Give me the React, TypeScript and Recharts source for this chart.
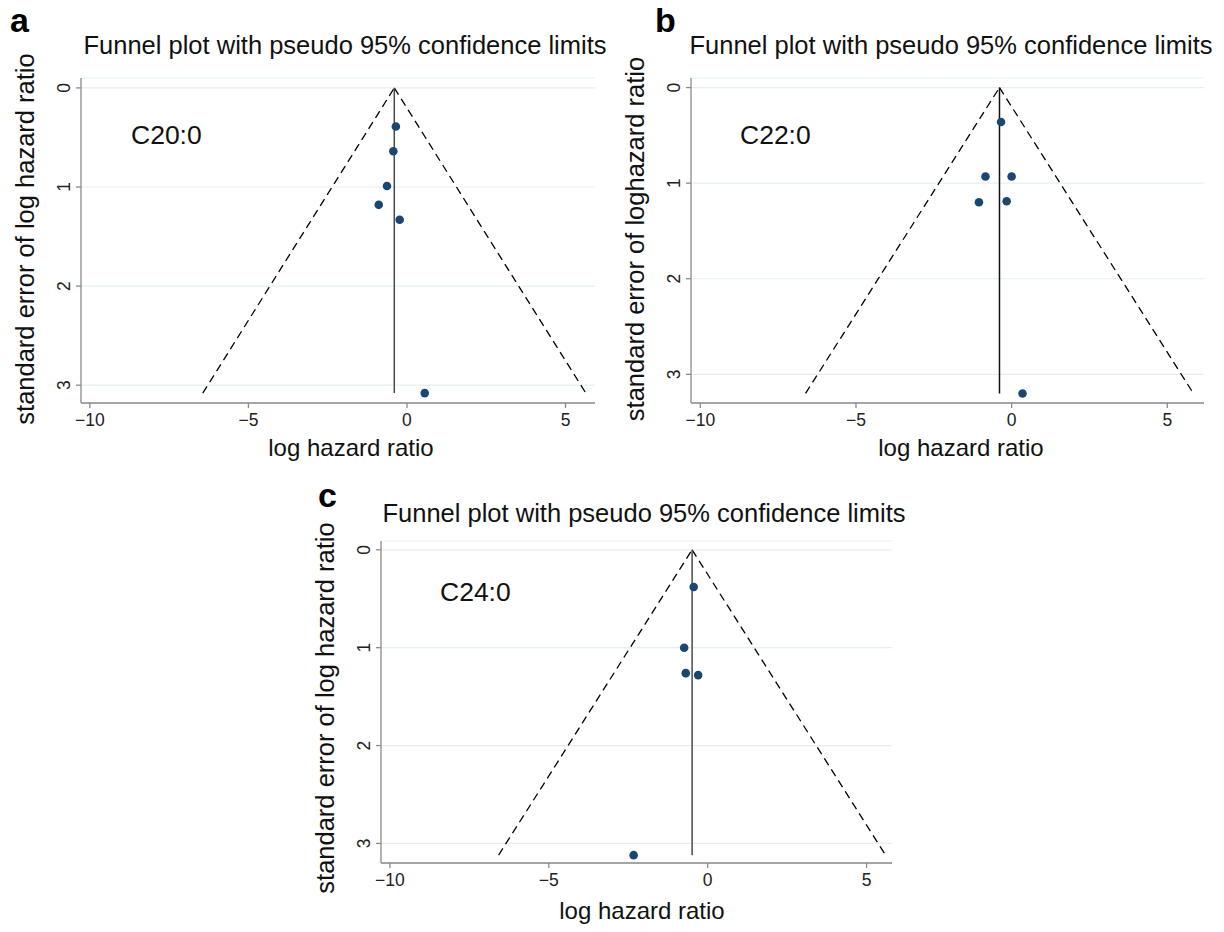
import React from 'react';
import { ScatterChart, Scatter, XAxis, YAxis, CartesianGrid, ReferenceLine } from 'recharts';

// ---------- data ----------
const xTicks = [-10, -5, 0, 5];
const yTicks = [0, 1, 2, 3];
const panelLetters = ['a', 'b', 'c'];
const metaboliteLabels = ['C20:0', 'C22:0', 'C24:0'];
const yAxisTitles = [
  'standard error of log hazard ratio',
  'standard error of loghazard ratio',
  'standard error of log hazard ratio',
];
const plotTitle = 'Funnel plot with pseudo 95% confidence limits';
const xAxisTitle = 'log hazard ratio';

const c20Points = [
  { x: -0.35, y: 0.39 },
  { x: -0.43, y: 0.64 },
  { x: -0.63, y: 0.99 },
  { x: -0.89, y: 1.18 },
  { x: -0.23, y: 1.33 },
  { x: 0.56, y: 3.08 },
];
const c22Points = [
  { x: -0.34, y: 0.36 },
  { x: -0.84, y: 0.93 },
  { x: 0.0, y: 0.93 },
  { x: -1.05, y: 1.2 },
  { x: -0.16, y: 1.19 },
  { x: 0.35, y: 3.2 },
];
const c24Points = [
  { x: -0.44, y: 0.38 },
  { x: -0.74, y: 1.0 },
  { x: -0.69, y: 1.26 },
  { x: -0.3, y: 1.28 },
  { x: -2.33, y: 3.12 },
];
const panelPoints = [c20Points, c22Points, c24Points];

const pooledEstimate = [-0.4, -0.39, -0.49];
const maxStdError = [3.08, 3.2, 3.12];
const lowerLimitAtMax = [-6.44, -6.62, -6.58];
const upperLimitAtMax = [5.64, 5.84, 5.6];
const xDomains: [number, number][] = [[-10.28, 5.93], [-10.3, 6.18], [-10.28, 5.8]];
const yDomains: [number, number][] = [[-0.1, 3.18], [-0.1, 3.3], [-0.09, 3.2]];

// ---------- layout ----------
const layout = [
  { x0: 81, x1: 595, y0: 78, y1: 413, titleCx: 345, titleBy: 54, letterX: 10, letterBy: 32, labX: 131, labBy: 144, yTitleBx: 34, yTitleCy: 239, xTitleCx: 351, xTitleBy: 456, midColor: '#4a4a4a' },
  { x0: 691, x1: 1204, y0: 78, y1: 413, titleCx: 951, titleBy: 54, letterX: 655, letterBy: 32, labX: 740, labBy: 144, yTitleBx: 644, yTitleCy: 239, xTitleCx: 961, xTitleBy: 456, midColor: '#111111' },
  { x0: 381, x1: 892, y0: 541, y1: 873, titleCx: 644, titleBy: 522, letterX: 318, letterBy: 507, labX: 440, labBy: 601, yTitleBx: 334, yTitleCy: 708, xTitleCx: 642, xTitleBy: 919, midColor: '#4a4a4a' },
];

const FONT = '"Liberation Sans", Arial, Helvetica, sans-serif';
const DOT = '#1a476f';
const AXIS = '#8a8a8a';

const fmt = (v: number) => (v < 0 ? '\u2212' + Math.abs(v) : String(v));

const XTick = (props: any) => {
  const { x, y, payload } = props;
  return (
    <text x={x} y={y + 13} textAnchor="middle" fontSize={17.5} fill="#222" fontFamily={FONT}>
      {fmt(payload.value)}
    </text>
  );
};

const YTick = (props: any) => {
  const { x, y, payload } = props;
  return (
    <text x={x} y={y} transform={`rotate(-90, ${x}, ${y})`} textAnchor="middle" fontSize={17.5} fill="#222" fontFamily={FONT}>
      {fmt(payload.value)}
    </text>
  );
};

const Dot = (props: any) => <circle cx={props.cx} cy={props.cy} r={4.3} fill={DOT} />;

function Panel({ i }: { i: number }) {
  const L = layout[i];
  const w = L.x1 - L.x0 + 100;
  const h = L.y1 - L.y0 + 70;
  const th = pooledEstimate[i];
  const se = maxStdError[i];
  return (
    <div style={{ position: 'absolute', left: L.x0 - 80, top: L.y0 - 10, width: w, height: h }}>
      <ScatterChart width={w} height={h} margin={{ top: 10, right: 20, left: 0, bottom: 0 }}>
        <CartesianGrid horizontal vertical={false} stroke="#e6eff0" strokeWidth={1.2} />
        <XAxis
          type="number"
          dataKey="x"
          domain={xDomains[i]}
          ticks={xTicks}
          allowDataOverflow
          height={70}
          tickSize={5}
          tickMargin={5}
          axisLine={{ stroke: AXIS, strokeWidth: 1.3 }}
          tickLine={{ stroke: AXIS, strokeWidth: 1.3 }}
          tick={<XTick />}
          interval={0}
        />
        <YAxis
          type="number"
          dataKey="y"
          reversed
          domain={yDomains[i]}
          ticks={yTicks}
          allowDataOverflow
          width={80}
          tickSize={5}
          tickMargin={6}
          axisLine={{ stroke: AXIS, strokeWidth: 1.3 }}
          tickLine={{ stroke: AXIS, strokeWidth: 1.3 }}
          tick={<YTick />}
          interval={0}
        />
        <ReferenceLine
          segment={[{ x: lowerLimitAtMax[i], y: se }, { x: th, y: 0 }]}
          stroke="#000"
          strokeWidth={1.3}
          strokeDasharray="8 5"
          ifOverflow="visible"
        />
        <ReferenceLine
          segment={[{ x: th, y: 0 }, { x: upperLimitAtMax[i], y: se }]}
          stroke="#000"
          strokeWidth={1.3}
          strokeDasharray="8 5"
          ifOverflow="visible"
        />
        <ReferenceLine
          segment={[{ x: th, y: 0 }, { x: th, y: se }]}
          stroke={L.midColor}
          strokeWidth={1.5}
          ifOverflow="visible"
        />
        <Scatter data={panelPoints[i]} shape={<Dot />} isAnimationActive={false} />
      </ScatterChart>
    </div>
  );
}

export default function App() {
  return (
    <div style={{ position: 'absolute', left: 0, top: 0, width: 1224, height: 932, background: '#fff', overflow: 'hidden' }}>
      {[0, 1, 2].map((i) => (
        <Panel key={i} i={i} />
      ))}
      <svg width={1224} height={932} style={{ position: 'absolute', left: 0, top: 0, pointerEvents: 'none' }}>
        {layout.map((L, i) => (
          <g key={i} fontFamily={FONT} fill="#111">
            <text x={L.letterX} y={L.letterBy} fontSize={34} fontWeight="bold" fill="#000">
              {panelLetters[i]}
            </text>
            <text x={L.titleCx} y={L.titleBy} fontSize={25.5} textAnchor="middle">
              {plotTitle}
            </text>
            <text x={L.labX} y={L.labBy} fontSize={26.5}>
              {metaboliteLabels[i]}
            </text>
            <text
              x={L.yTitleBx}
              y={L.yTitleCy}
              fontSize={25.5}
              textAnchor="middle"
              transform={`rotate(-90, ${L.yTitleBx}, ${L.yTitleCy})`}
            >
              {yAxisTitles[i]}
            </text>
            <text x={L.xTitleCx} y={L.xTitleBy} fontSize={24} textAnchor="middle">
              {xAxisTitle}
            </text>
          </g>
        ))}
      </svg>
    </div>
  );
}
